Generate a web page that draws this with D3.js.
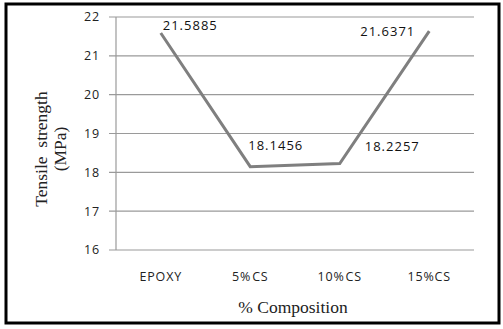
<!DOCTYPE html>
<html>
<head>
<meta charset="utf-8">
<script src="https://cdn.jsdelivr.net/npm/d3@7"></script>
<style>
	body { margin: 0; background: #fff; }
	.tick-label { font-family: "Open Sans", "DejaVu Sans", sans-serif; font-size: 12.5px; letter-spacing: 0.8px; fill: #222; }
	.data-label { font-family: "Open Sans", "DejaVu Sans", sans-serif; font-size: 13px; letter-spacing: 1px; fill: #111; }
	.title { font-family: "Liberation Serif", "DejaVu Serif", serif; font-size: 17.5px; fill: #222; }
</style>
</head>
<body>
<svg id="chart" width="503" height="329"></svg>
<script>
var categories = ["EPOXY", "5% CS", "10% CS", "15%CS"];
var strength = [21.5885, 18.1456, 18.2257, 21.6371];
var yTicks = [16, 17, 18, 19, 20, 21, 22];

drawChart();

function drawChart() {
	var svg = d3.select("#chart");

	// outer frame
	svg.append("rect")
		.attr("x", 6).attr("y", 4)
		.attr("width", 493).attr("height", 319)
		.attr("fill", "none")
		.attr("stroke", "#000")
		.attr("stroke-width", 3);

	var left = 116, right = 474, top = 17, bottom = 250;

	var x = d3.scaleBand().domain(categories).range([left, right]);
	var y = d3.scaleLinear().domain([16, 22]).range([bottom, top]);

	// gridlines
	svg.selectAll("line.grid")
		.data(yTicks)
		.enter().append("line")
		.attr("class", "grid")
		.attr("x1", left - 7).attr("x2", right)
		.attr("y1", function(d) { return y(d); })
		.attr("y2", function(d) { return y(d); })
		.attr("stroke", "#9a9a9a")
		.attr("stroke-width", 1.2);

	// y axis line
	svg.append("line")
		.attr("x1", left).attr("x2", left)
		.attr("y1", top).attr("y2", bottom)
		.attr("stroke", "#9a9a9a")
		.attr("stroke-width", 1.2);

	// y tick labels
	svg.selectAll("text.ytick")
		.data(yTicks)
		.enter().append("text")
		.attr("class", "tick-label ytick")
		.attr("x", left - 16)
		.attr("y", function(d) { return y(d); })
		.attr("dy", "0.35em")
		.attr("text-anchor", "end")
		.text(function(d) { return d; });

	// x tick labels
	svg.selectAll("text.xtick")
		.data(categories)
		.enter().append("text")
		.attr("class", "tick-label xtick")
		.attr("x", function(d) { return x(d) + x.bandwidth() / 2; })
		.attr("y", 277)
		.attr("dy", "0.35em")
		.attr("text-anchor", "middle")
		.attr("word-spacing", "-3px")
		.text(function(d) { return d; });

	// the line
	var pts = categories.map(function(c, i) { return [x(c) + x.bandwidth() / 2, y(strength[i])]; });
	svg.append("path")
		.attr("d", d3.line()(pts))
		.attr("fill", "none")
		.attr("stroke", "#7f7f7f")
		.attr("stroke-width", 3)
		.attr("stroke-linejoin", "miter");

	// data labels
	var offsets = [[2, -8], [-2, -21], [25, -17], [-69, 0]];
	svg.selectAll("text.data-label")
		.data(strength)
		.enter().append("text")
		.attr("class", "data-label")
		.attr("x", function(d, i) { return pts[i][0] + offsets[i][0]; })
		.attr("y", function(d, i) { return pts[i][1] + offsets[i][1]; })
		.attr("dy", "0.35em")
		.text(function(d) { return d.toFixed(4); });

	// axis titles
	svg.append("text")
		.attr("class", "title")
		.attr("x", 293).attr("y", 307)
		.attr("dy", "0.35em")
		.attr("text-anchor", "middle")
		.text("% Composition");

	var yt = svg.append("text")
		.attr("class", "title")
		.attr("transform", "translate(47,149) rotate(-90)")
		.attr("text-anchor", "middle");
	yt.append("tspan").attr("x", 0).attr("y", 0).attr("xml:space", "preserve").text("Tensile  strength");
	yt.append("tspan").attr("x", 0).attr("y", 19).text("(MPa)");
}
</script>
</body>
</html>
